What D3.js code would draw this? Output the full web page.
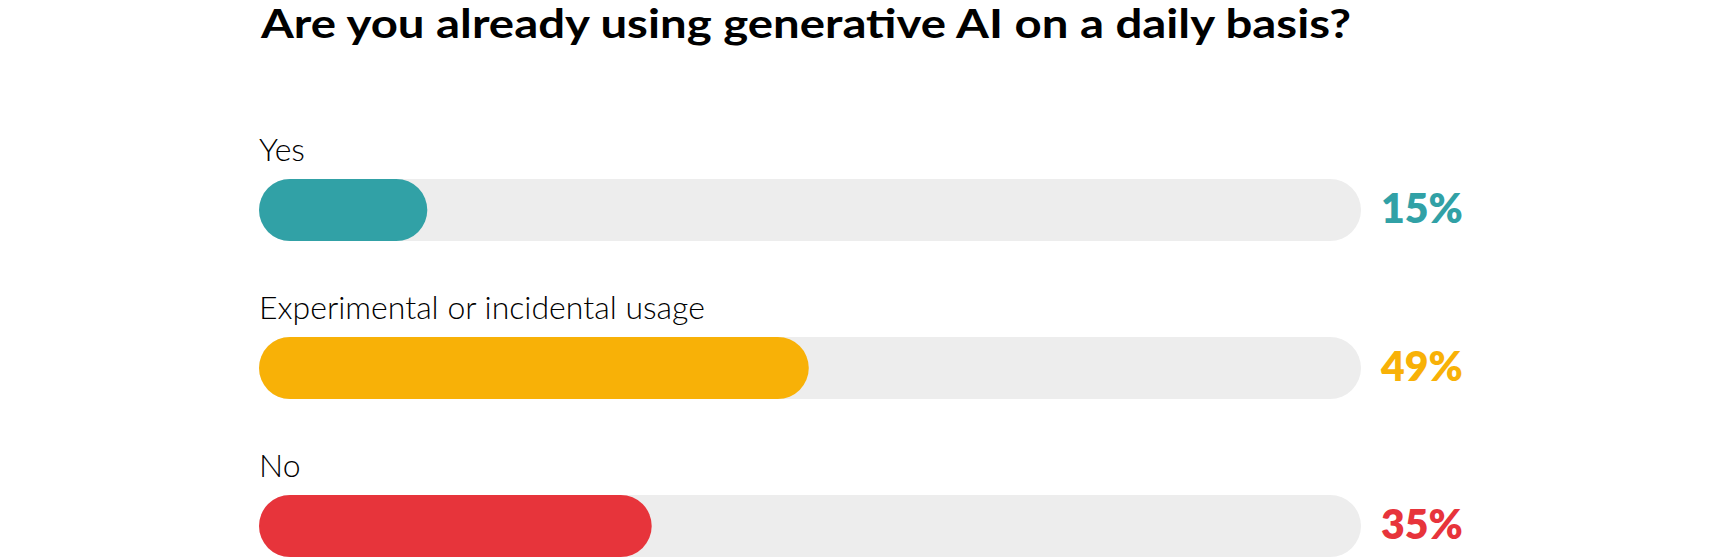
<!DOCTYPE html>
<html>
<head>
<meta charset="utf-8">
<script src="https://cdn.jsdelivr.net/npm/d3@7"></script>
<style>
  html, body { margin: 0; padding: 0; background: #ffffff; }
  svg { display: block; }
</style>
</head>
<body>
<div id="chart"></div>
<script>
const title = "Are you already using generative AI on a daily basis?";
const categories = ["Yes", "Experimental or incidental usage", "No"];
const values = [15, 49, 35];
const valueLabels = ["15%", "49%", "35%"];
const colors = ["#31A1A6", "#F8B107", "#E7343B"];

const W = 1720, H = 558;
const svg = d3.select("#chart").append("svg").attr("width", W).attr("height", H);

const left = 259, trackRight = 1361;
const barH = 62;

const x = d3.scaleLinear().domain([0, 100]).range([left, left + 1122]);
const y = d3.scaleBand().domain(categories).range([179, 179 + 158 * 3]).paddingInner(0).paddingOuter(0);

svg.append("text")
  .attr("x", 261).attr("y", 38)
  .attr("font-family", "Lato, 'Open Sans', sans-serif")
  .attr("font-weight", 700)
  .attr("font-size", 40)
  .attr("fill", "#000")
  .attr("textLength", 1090)
  .attr("lengthAdjust", "spacingAndGlyphs")
  .text(title);

const g = svg.selectAll("g.row").data(categories).enter().append("g").attr("class", "row");

g.append("text")
  .attr("x", left)
  .attr("y", d => y(d) - 18)
  .attr("font-family", "Lato, sans-serif")
  .attr("font-weight", 300)
  .attr("font-size", 32)
  .attr("fill", "#000")
  .text(d => d);

g.append("rect")
  .attr("x", left)
  .attr("y", d => y(d))
  .attr("width", trackRight - left)
  .attr("height", barH)
  .attr("rx", barH / 2)
  .attr("fill", "#EDEDED");

g.append("rect")
  .attr("x", left)
  .attr("y", d => y(d))
  .attr("width", (d, i) => x(values[i]) - left)
  .attr("height", barH)
  .attr("rx", barH / 2)
  .attr("fill", (d, i) => colors[i]);

g.append("text")
  .attr("x", 1381)
  .attr("y", d => y(d) + barH / 2 + 13)
  .attr("font-family", "Lato, 'Noto Sans', sans-serif")
  .attr("font-weight", 800)
  .attr("font-size", 41)
  .attr("fill", (d, i) => colors[i])
  .text((d, i) => valueLabels[i]);
</script>
</body>
</html>
